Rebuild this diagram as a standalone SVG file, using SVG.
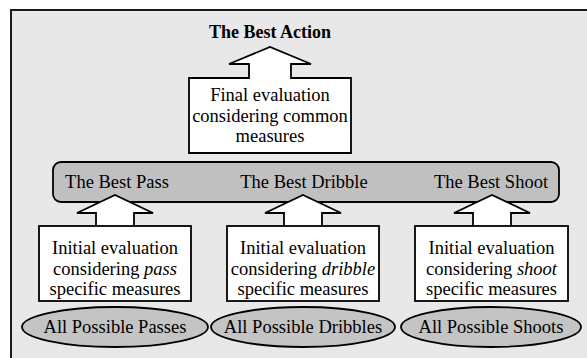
<svg xmlns="http://www.w3.org/2000/svg" width="587" height="358" viewBox="0 0 587 358">
<style>
text{font-family:"Liberation Serif","Times New Roman","DejaVu Serif",serif;font-size:18.5px;fill:#000;text-anchor:middle}
.b{font-weight:bold;font-size:18px}
.i{font-style:italic}
.node{fill:#fff;stroke:#000;stroke-width:1.8;stroke-linejoin:miter}
.ell{fill:#c4c4c4;stroke:#000;stroke-width:1.8}
.bar{fill:#c0c0c0;stroke:#000;stroke-width:1.8}
</style>
<rect x="11" y="10" width="620" height="400" fill="#e8e8e8" stroke="#1a1a1a" stroke-width="2"/>
<g id="best-action"><text class="b" x="270" y="38">The Best Action</text></g>
<g id="bar">
<rect class="bar" x="53" y="162" width="506" height="40" rx="8"/>
</g>
<g id="final-eval">
<path class="node" d="M189,78 H249 V64 H229 L270,47 L311,64 H291 V78 H351 V153 H189 Z"/>
<text x="270" y="101">Final evaluation</text>
<text x="270" y="121.5">considering common</text>
<text x="270" y="142">measures</text>
</g>
<g id="connectors">
<path class="node" d="M96,226 V213 H77 L115,195 L153,213 H134 V226"/>
<path class="node" d="M284,226 V213 H265 L303,195 L341,213 H322 V226"/>
<path class="node" d="M473,226 V213 H454 L492,195 L530,213 H511 V226"/>
</g>
<g id="best-pass"><text x="117" y="188">The Best Pass</text></g>
<g id="best-dribble"><text x="304" y="188">The Best Dribble</text></g>
<g id="best-shoot"><text x="491" y="188">The Best Shoot</text></g>
<g id="pass-eval">
<rect class="node" x="39" y="226" width="152" height="75"/>
<text x="115" y="254">Initial evaluation</text>
<text x="115" y="274.5">considering <tspan class="i">pass</tspan></text>
<text x="115" y="295">specific measures</text>
</g>
<g id="dribble-eval">
<rect class="node" x="227" y="226" width="152" height="75"/>
<text x="303" y="254">Initial evaluation</text>
<text x="303" y="274.5">considering <tspan class="i">dribble</tspan></text>
<text x="303" y="295">specific measures</text>
</g>
<g id="shoot-eval">
<rect class="node" x="415" y="226" width="153" height="75"/>
<text x="491.5" y="254">Initial evaluation</text>
<text x="491.5" y="274.5">considering <tspan class="i">shoot</tspan></text>
<text x="491.5" y="295">specific measures</text>
</g>
<g id="all-passes">
<ellipse class="ell" cx="115" cy="327" rx="93" ry="20"/>
<text x="115" y="333">All Possible Passes</text>
</g>
<g id="all-dribbles">
<ellipse class="ell" cx="303" cy="327" rx="92" ry="20"/>
<text x="303" y="333">All Possible Dribbles</text>
</g>
<g id="all-shoots">
<ellipse class="ell" cx="491" cy="327" rx="90" ry="20"/>
<text x="491" y="333">All Possible Shoots</text>
</g>
</svg>
